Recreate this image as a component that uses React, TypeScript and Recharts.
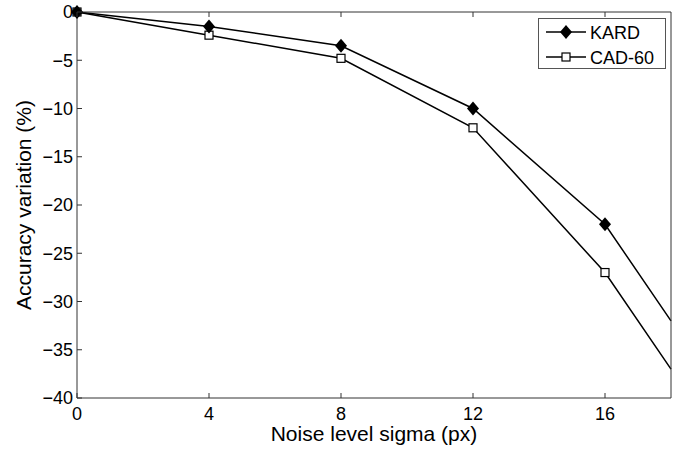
import React from 'react';
import { LineChart, Line, XAxis, YAxis } from 'recharts';

// noise sigma (px) and accuracy variation (%) per dataset
const noiseLevels = [0, 4, 8, 12, 16, 18];
const kardValues = [0, -1.5, -3.5, -10, -22, -32];
const cad60Values = [0, -2.4, -4.8, -12, -27, -37];

const xTicks = [0, 4, 8, 12, 16];
const yTicks = [-40, -35, -30, -25, -20, -15, -10, -5, 0];

const FONT = '"Liberation Sans", Arial, Helvetica, sans-serif';
const AXIS = '#333';
const TICK = 5;

const data = noiseLevels.map((x, i) => ({ x, kard: kardValues[i], cad: cad60Values[i] }));

const fmt = (v: number) => String(v).replace('-', '\u2212');

// inward ticks, matlab style (drawn as thin rects)
function BottomTick({ x, y, payload }: any) {
  return (
    <g>
      <rect x={x - 0.5} y={y - TICK} width={1} height={TICK} fill={AXIS} />
      <text x={x} y={y + 9} dy="0.71em" textAnchor="middle" fontSize={18} fontFamily={FONT} fill="#000">
        {fmt(payload.value)}
      </text>
    </g>
  );
}
function LeftTick({ x, y, payload }: any) {
  return (
    <g>
      <rect x={x} y={y - 0.5} width={TICK} height={1} fill={AXIS} />
      <text x={x - 4} y={y} dy="0.36em" textAnchor="end" fontSize={18} fontFamily={FONT} fill="#000">
        {fmt(payload.value)}
      </text>
    </g>
  );
}
function TopTick({ x, y }: any) {
  return <rect x={x - 0.5} y={y} width={1} height={TICK} fill={AXIS} />;
}
function RightTick({ x, y }: any) {
  return <rect x={x - TICK} y={y - 0.5} width={TICK} height={1} fill={AXIS} />;
}

function Diamond(p: any) {
  const { cx, cy, index } = p;
  if (noiseLevels[index] === 18) return <g key={`k${index}`} />;
  return (
    <path
      key={`k${index}`}
      d={`M${cx},${cy - 7} L${cx + 6},${cy} L${cx},${cy + 7} L${cx - 6},${cy} Z`}
      fill="#000"
    />
  );
}

function Square(p: any) {
  const { cx, cy, index } = p;
  if (noiseLevels[index] === 18) return <g key={`c${index}`} />;
  return <rect key={`c${index}`} x={cx - 4} y={cy - 4} width={8} height={8} fill="#fff" stroke="#000" strokeWidth={1.2} />;
}

function LegendBox() {
  const row = (label: string, marker: React.ReactNode, y: number) => (
    <g>
      <line x1={8} x2={48} y1={y} y2={y} stroke="#000" strokeWidth={1.5} />
      {marker}
      <text x={52} y={y + 6.5} fontSize={18} fontFamily={FONT} fill="#000">{label}</text>
    </g>
  );
  return (
    <svg width={128} height={51} style={{ position: 'absolute', left: 538, top: 18, display: 'block' }}>
      <rect x={0.5} y={0.5} width={127} height={50} fill="#fff" stroke="#555" />
      {row('KARD', <path d="M28,7 L34,14 L28,21 L22,14 Z" fill="#000" />, 14)}
      {row('CAD-60', <rect x={24} y={35} width={8} height={8} fill="#fff" stroke="#000" strokeWidth={1.2} />, 39)}
    </svg>
  );
}

export default function App() {
  return (
    <div style={{ position: 'absolute', left: 0, top: 0, width: 679, height: 449, background: '#fff' }}>
      <LineChart width={679} height={449} data={data} margin={{ top: 11, right: 7, left: 0, bottom: 0 }}>
        <XAxis
          xAxisId="b"
          dataKey="x"
          type="number"
          domain={[0, 18]}
          ticks={xTicks}
          height={51}
          stroke={AXIS}
          tickLine={false}
          tickSize={0}
          tickMargin={0}
          tick={BottomTick}
          label={{ value: 'Noise level sigma (px)', position: 'insideBottom', offset: 8, fontSize: 21, fontFamily: FONT, fill: '#000' }}
        />
        <XAxis
          xAxisId="t"
          dataKey="x"
          type="number"
          orientation="top"
          domain={[0, 18]}
          ticks={xTicks}
          height={1}
          stroke={AXIS}
          tickLine={false}
          tickSize={0}
          tickMargin={0}
          tick={TopTick}
        />
        <YAxis
          yAxisId="l"
          type="number"
          domain={[-40, 0]}
          ticks={yTicks}
          width={77}
          stroke={AXIS}
          tickLine={false}
          tickSize={0}
          tickMargin={0}
          tick={LeftTick}
          label={{ value: 'Accuracy variation (%)', angle: -90, position: 'insideLeft', offset: 24, fontSize: 21, fontFamily: FONT, fill: '#000', style: { textAnchor: 'middle' } }}
        />
        <YAxis
          yAxisId="r"
          type="number"
          orientation="right"
          domain={[-40, 0]}
          ticks={yTicks}
          width={1}
          stroke={AXIS}
          tickLine={false}
          tickSize={0}
          tickMargin={0}
          tick={RightTick}
        />
        <Line
          xAxisId="b"
          yAxisId="l"
          dataKey="cad"
          name="CAD-60"
          stroke="#000"
          strokeWidth={1.5}
          dot={Square}
          activeDot={false}
          isAnimationActive={false}
        />
        <Line
          xAxisId="b"
          yAxisId="l"
          dataKey="kard"
          name="KARD"
          stroke="#000"
          strokeWidth={1.5}
          dot={Diamond}
          activeDot={false}
          isAnimationActive={false}
        />
      </LineChart>
      <LegendBox />
    </div>
  );
}
